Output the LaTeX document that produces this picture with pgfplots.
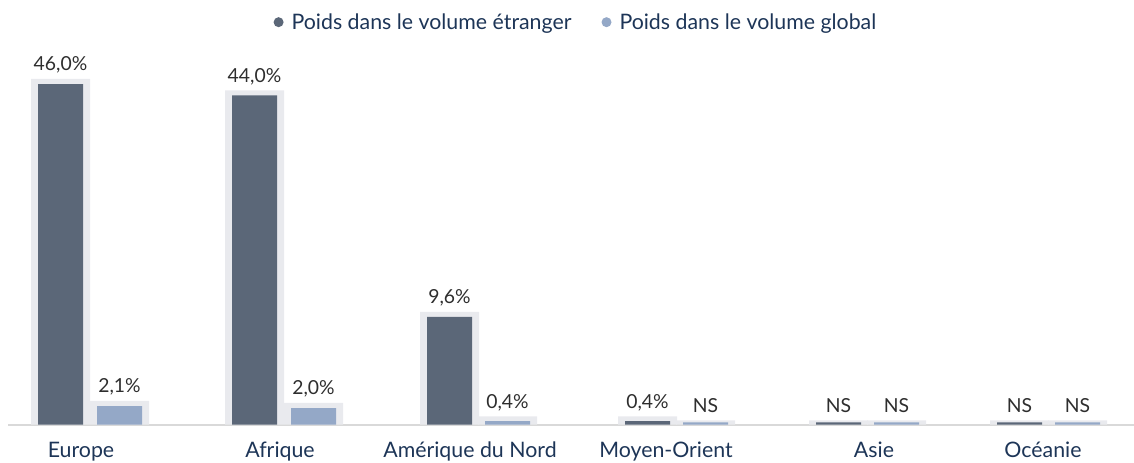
\documentclass[border=0pt]{standalone}
\usepackage{fontspec}
\setmainfont{Lato}
\usepackage{pgfplots}
\pgfplotsset{compat=1.18}

\definecolor{darkbar}{HTML}{5B6778}
\definecolor{lightbar}{HTML}{94A8C7}
\definecolor{halo}{HTML}{E9EAEE}
\definecolor{baseline}{HTML}{D9D9D9}
\definecolor{navy}{HTML}{1D3557}
\definecolor{labelgray}{HTML}{2E2E2E}

\newcommand{\chartfont}{\fontsize{14.5}{17}\selectfont}
\newcommand{\catfont}{\fontsize{16}{19}\selectfont}
\newcommand{\legdot}[1]{\tikz[baseline]\fill[#1] (3.75pt,0.36em) circle (3.75pt);\hspace{6pt}}

\begin{document}
\begin{tikzpicture}[x=0.75pt,y=0.75pt]
\useasboundingbox (-8,-37.5) rectangle (1126,424.5);
\begin{axis}[
    at={(0,0)}, anchor=south west,
    scale only axis,
    width=844.5pt, height=318.375pt,
    xmin=8, xmax=1134, ymin=0, ymax=57.36,
    axis y line=none,
    axis x line*=bottom,
    x axis line style={draw=baseline, line width=1.5pt},
    ytick=\empty,
    xtick={81,280,470,666,874,1043},
    xticklabels={Europe, Afrique, Amérique du Nord, Moyen-Orient, Asie, Océanie},
    major tick length=0pt,
    xticklabel style={font=\catfont, text=navy, anchor=base, yshift=-25pt},
    bar width=33.75pt,
    legend columns=2,
    legend style={at={(0.4902,0.9458)}, anchor=center, draw=none, fill=none,
        font=\catfont, text=navy, inner sep=0pt,
        nodes={inner sep=0pt},
        /tikz/every even column/.append style={column sep=0pt},
        /tikz/every odd column/.append style={column sep=22.5pt}},
]

% light grey frames behind the bars, carrying the value labels
\addplot[ybar, forget plot, fill=halo, draw=none, bar width=44.25pt,
    point meta=explicit symbolic, nodes near coords,
    nodes near coords style={font=\chartfont, text=labelgray, anchor=base, yshift=6pt}]
coordinates {
    (60.5,46.7) [46,0\%]
    (254.5,45.16) [44,0\%]
    (449.5,15.23) [9,6\%]
    (647.5,1.1) [0,4\%]
    (838.5,0.55) [NS]
    (1019.5,0.55) [NS]
};
\addplot[ybar, forget plot, fill=halo, draw=none, bar width=44.25pt,
    point meta=explicit symbolic, nodes near coords,
    nodes near coords style={font=\chartfont, text=labelgray, anchor=base, yshift=6pt}]
coordinates {
    (119.5,3.2) [2,1\%]
    (313.5,2.93) [2,0\%]
    (507.5,1.1) [0,4\%]
    (705.5,0.55) [NS]
    (896.5,0.55) [NS]
    (1077.5,0.55) [NS]
};

% ---------------- Poids dans le volume étranger ----------------
\addplot[ybar, fill=darkbar, draw=none, legend image code/.code={}]
coordinates {
    (60.5,46.0) (254.5,44.46) (449.5,14.53) (647.5,0.47) (838.5,0.3) (1019.5,0.3)
};
\addlegendentry{\legdot{darkbar}Poids dans le volume étranger}

% ---------------- Poids dans le volume global ----------------
\addplot[ybar, fill=lightbar, draw=none, legend image code/.code={}]
coordinates {
    (119.5,2.5) (313.5,2.23) (507.5,0.47) (705.5,0.3) (896.5,0.3) (1077.5,0.3)
};
\addlegendentry{\legdot{lightbar}Poids dans le volume global}

\end{axis}
\end{tikzpicture}
\end{document}
